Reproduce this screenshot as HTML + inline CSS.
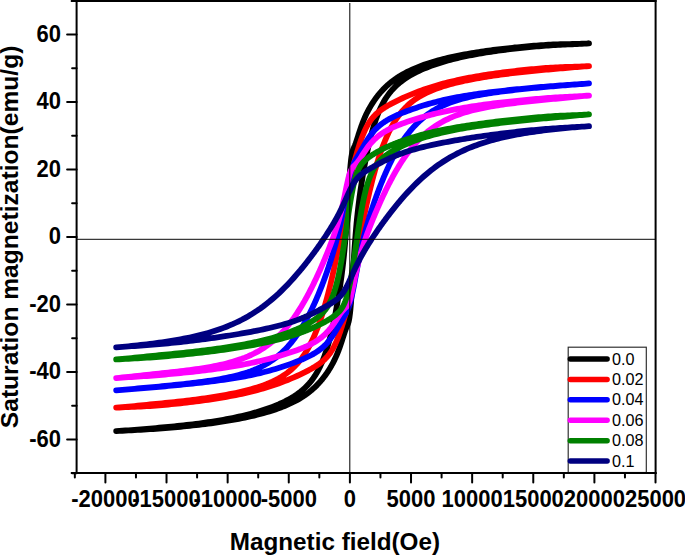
<!DOCTYPE html>
<html><head><meta charset="utf-8"><style>
html,body{margin:0;padding:0;background:#fff;width:685px;height:556px;overflow:hidden}
svg{display:block;font-family:"Liberation Sans",sans-serif}
</style></head><body>
<svg width="685" height="556" viewBox="0 0 685 556">
<rect width="685" height="556" fill="#fff"/>
<path d="M589.00,43.41 586.61,43.53 584.22,43.64 581.82,43.73 579.43,43.81 577.04,43.88 574.65,43.94 572.25,43.99 569.86,44.04 567.47,44.10 565.08,44.15 562.68,44.21 560.29,44.27 557.90,44.34 555.51,44.42 553.11,44.51 550.72,44.62 548.33,44.73 545.94,44.87 543.54,45.02 541.15,45.18 538.76,45.37 536.37,45.56 533.97,45.76 531.58,45.96 529.19,46.16 526.80,46.37 524.41,46.59 522.01,46.81 519.62,47.04 517.23,47.28 514.84,47.51 512.44,47.76 510.05,48.01 507.66,48.27 505.27,48.54 502.87,48.81 500.48,49.09 498.09,49.38 495.70,49.67 493.30,49.98 490.91,50.29 488.52,50.61 486.13,50.94 483.73,51.29 481.34,51.64 478.95,52.00 476.56,52.37 474.16,52.76 471.77,53.15 469.38,53.56 466.99,53.99 464.59,54.42 462.20,54.87 459.81,55.34 457.42,55.82 455.03,56.32 452.63,56.84 450.24,57.38 447.85,57.93 445.46,58.51 443.06,59.10 440.67,59.73 438.28,60.37 435.89,61.04 433.49,61.74 431.10,62.47 428.71,63.23 426.32,64.02 423.92,64.85 421.53,65.72 419.14,66.63 416.75,67.58 414.35,68.59 411.96,69.65 409.57,70.76 407.18,71.94 404.78,73.20 402.39,74.53 400.00,75.95 399.50,76.26 399.00,76.57 398.50,76.89 398.00,77.21 397.50,77.54 397.00,77.87 396.50,78.21 396.00,78.55 395.50,78.89 395.00,79.25 394.50,79.60 394.00,79.97 393.50,80.33 393.00,80.71 392.50,81.09 392.00,81.47 391.50,81.87 391.00,82.27 390.50,82.67 390.00,83.08 389.50,83.50 389.00,83.93 388.50,84.36 388.00,84.80 387.50,85.25 387.00,85.70 386.50,86.16 386.00,86.63 385.50,87.11 385.00,87.60 384.50,88.09 384.00,88.60 383.50,89.11 383.00,89.63 382.50,90.16 382.00,90.70 381.50,91.26 381.00,91.82 380.50,92.39 380.00,92.97 379.50,93.56 379.00,94.16 378.50,94.77 378.00,95.40 377.50,96.03 377.00,96.68 376.50,97.34 376.00,98.02 375.50,98.70 375.00,99.40 374.50,100.11 374.00,100.84 373.50,101.58 373.00,102.34 372.50,103.11 372.00,103.90 371.50,104.70 371.00,105.52 370.50,106.36 370.00,107.22 369.50,108.09 369.00,108.99 368.50,109.91 368.00,110.85 367.50,111.82 367.00,112.81 366.50,113.82 366.00,114.87 365.50,115.94 365.00,117.05 364.50,118.18 364.00,119.35 363.50,120.56 363.00,121.81 362.50,123.09 362.00,124.41 361.50,125.78 361.00,127.18 360.50,128.63 360.00,130.11 359.50,131.63 359.00,133.18 358.50,134.75 358.00,136.32 357.50,137.90 357.00,139.45 356.50,140.96 356.00,142.41 355.50,143.78 355.00,145.06 354.50,146.26 354.00,147.41 353.50,148.57 353.00,149.88 352.50,151.49 352.00,153.61 351.50,156.47 351.00,160.25 350.50,165.07 350.00,170.95 349.50,177.78 349.00,185.34 348.50,193.35 348.00,201.54 347.50,209.65 347.00,217.48 346.50,224.91 346.00,231.86 345.50,238.32 345.00,244.30 344.50,249.83 344.00,254.97 343.50,259.75 343.00,264.24 342.50,268.46 342.00,272.46 341.50,276.28 341.00,279.92 340.50,283.43 340.00,286.81 339.50,290.08 339.00,293.26 338.50,296.34 338.00,299.34 337.50,302.25 337.00,305.10 336.50,307.87 336.00,310.57 335.50,313.20 335.00,315.76 334.50,318.26 334.00,320.70 333.50,323.07 333.00,325.38 332.50,327.63 332.00,329.81 331.50,331.94 331.00,334.00 330.50,336.01 330.00,337.96 329.50,339.86 329.00,341.69 328.50,343.48 328.00,345.21 327.50,346.89 327.00,348.51 326.50,350.09 326.00,351.62 325.50,353.10 325.00,354.54 324.50,355.94 324.00,357.29 323.50,358.60 323.00,359.87 322.50,361.10 322.00,362.29 321.50,363.44 321.00,364.56 320.50,365.65 320.00,366.70 319.50,367.73 319.00,368.72 318.50,369.68 318.00,370.62 317.50,371.52 317.00,372.40 316.50,373.26 316.00,374.09 315.50,374.90 315.00,375.68 314.50,376.44 314.00,377.19 313.50,377.91 313.00,378.61 312.50,379.30 312.00,379.96 311.50,380.61 311.00,381.25 310.50,381.86 310.00,382.47 309.50,383.05 309.00,383.63 308.50,384.19 308.00,384.73 307.50,385.27 307.00,385.79 306.50,386.30 306.00,386.80 305.50,387.29 305.00,387.77 304.50,388.24 304.00,388.69 303.50,389.14 303.00,389.58 302.50,390.01 302.00,390.44 301.50,390.85 301.00,391.26 300.50,391.66 300.00,392.05 296.94,394.31 293.87,396.35 290.81,398.22 287.75,399.93 284.68,401.52 281.62,402.99 278.56,404.37 275.49,405.66 272.43,406.87 269.37,408.02 266.30,409.10 263.24,410.12 260.18,411.09 257.11,412.02 254.05,412.89 250.99,413.73 247.92,414.52 244.86,415.28 241.80,416.01 238.73,416.70 235.67,417.36 232.61,418.00 229.54,418.60 226.48,419.18 223.42,419.74 220.35,420.28 217.29,420.79 214.23,421.29 211.16,421.76 208.10,422.22 205.04,422.66 201.97,423.09 198.91,423.50 195.85,423.89 192.78,424.27 189.72,424.64 186.66,425.00 183.59,425.34 180.53,425.68 177.47,426.00 174.40,426.31 171.34,426.61 168.28,426.91 165.21,427.19 162.15,427.47 159.09,427.75 156.02,428.02 152.96,428.28 149.90,428.54 146.83,428.80 143.77,429.06 140.71,429.31 137.64,429.56 134.58,429.80 131.52,430.04 128.45,430.27 125.39,430.48 122.33,430.69 119.26,430.88 116.20,431.06 116.20,431.06 119.26,430.89 122.33,430.73 125.39,430.56 128.45,430.41 131.52,430.25 134.58,430.09 137.64,429.93 140.71,429.76 143.77,429.59 146.83,429.40 149.90,429.21 152.96,429.00 156.02,428.79 159.09,428.57 162.15,428.33 165.21,428.09 168.28,427.84 171.34,427.58 174.40,427.31 177.47,427.03 180.53,426.74 183.59,426.44 186.66,426.13 189.72,425.82 192.78,425.49 195.85,425.15 198.91,424.80 201.97,424.44 205.04,424.06 208.10,423.67 211.16,423.26 214.23,422.85 217.29,422.41 220.35,421.96 223.42,421.49 226.48,421.00 229.54,420.49 232.61,419.96 235.67,419.41 238.73,418.84 241.80,418.24 244.86,417.61 247.92,416.96 250.99,416.27 254.05,415.56 257.11,414.80 260.18,414.02 263.24,413.19 266.30,412.31 269.37,411.40 272.43,410.43 275.49,409.40 278.56,408.32 281.62,407.17 284.68,405.94 287.75,404.63 290.81,403.23 293.87,401.73 296.94,400.11 300.00,398.36 300.50,398.06 301.00,397.75 301.50,397.44 302.00,397.13 302.50,396.81 303.00,396.49 303.50,396.16 304.00,395.83 304.50,395.49 305.00,395.15 305.50,394.81 306.00,394.45 306.50,394.10 307.00,393.73 307.50,393.37 308.00,392.99 308.50,392.61 309.00,392.23 309.50,391.83 310.00,391.43 310.50,391.03 311.00,390.62 311.50,390.20 312.00,389.77 312.50,389.34 313.00,388.90 313.50,388.45 314.00,388.00 314.50,387.54 315.00,387.07 315.50,386.59 316.00,386.10 316.50,385.61 317.00,385.10 317.50,384.59 318.00,384.07 318.50,383.54 319.00,383.00 319.50,382.44 320.00,381.88 320.50,381.31 321.00,380.73 321.50,380.14 322.00,379.54 322.50,378.93 323.00,378.30 323.50,377.67 324.00,377.02 324.50,376.36 325.00,375.68 325.50,375.00 326.00,374.30 326.50,373.59 327.00,372.86 327.50,372.12 328.00,371.36 328.50,370.59 329.00,369.80 329.50,369.00 330.00,368.18 330.50,367.34 331.00,366.48 331.50,365.61 332.00,364.71 332.50,363.79 333.00,362.85 333.50,361.88 334.00,360.89 334.50,359.88 335.00,358.83 335.50,357.76 336.00,356.65 336.50,355.52 337.00,354.35 337.50,353.14 338.00,351.89 338.50,350.61 339.00,349.29 339.50,347.92 340.00,346.52 340.50,345.07 341.00,343.59 341.50,342.07 342.00,340.52 342.50,338.95 343.00,337.38 343.50,335.80 344.00,334.25 344.50,332.74 345.00,331.29 345.50,329.92 346.00,328.64 346.50,327.44 347.00,326.29 347.50,325.13 348.00,323.82 348.50,322.21 349.00,320.09 349.50,317.23 350.00,313.45 350.50,308.63 351.00,302.75 351.50,295.92 352.00,288.36 352.50,280.35 353.00,272.16 353.50,264.05 354.00,256.22 354.50,248.79 355.00,241.84 355.50,235.38 356.00,229.40 356.50,223.87 357.00,218.73 357.50,213.95 358.00,209.46 358.50,205.24 359.00,201.24 359.50,197.42 360.00,193.78 360.50,190.27 361.00,186.89 361.50,183.62 362.00,180.44 362.50,177.36 363.00,174.36 363.50,171.45 364.00,168.60 364.50,165.83 365.00,163.13 365.50,160.50 366.00,157.94 366.50,155.44 367.00,153.00 367.50,150.63 368.00,148.32 368.50,146.07 369.00,143.89 369.50,141.76 370.00,139.70 370.50,137.69 371.00,135.74 371.50,133.84 372.00,132.01 372.50,130.22 373.00,128.49 373.50,126.81 374.00,125.19 374.50,123.61 375.00,122.08 375.50,120.60 376.00,119.16 376.50,117.76 377.00,116.41 377.50,115.10 378.00,113.83 378.50,112.60 379.00,111.41 379.50,110.26 380.00,109.14 380.50,108.05 381.00,107.00 381.50,105.97 382.00,104.98 382.50,104.02 383.00,103.08 383.50,102.18 384.00,101.30 384.50,100.44 385.00,99.61 385.50,98.80 386.00,98.02 386.50,97.26 387.00,96.51 387.50,95.79 388.00,95.09 388.50,94.40 389.00,93.74 389.50,93.09 390.00,92.45 390.50,91.84 391.00,91.23 391.50,90.65 392.00,90.07 392.50,89.51 393.00,88.97 393.50,88.43 394.00,87.91 394.50,87.40 395.00,86.90 395.50,86.41 396.00,85.93 396.50,85.46 397.00,85.01 397.50,84.56 398.00,84.12 398.50,83.69 399.00,83.26 399.50,82.85 400.00,82.44 402.39,80.59 404.78,78.89 407.18,77.31 409.57,75.85 411.96,74.47 414.35,73.19 416.75,71.97 419.14,70.82 421.53,69.73 423.92,68.70 426.32,67.71 428.71,66.77 431.10,65.88 433.49,65.02 435.89,64.20 438.28,63.41 440.67,62.65 443.06,61.93 445.46,61.23 447.85,60.56 450.24,59.91 452.63,59.29 455.03,58.69 457.42,58.11 459.81,57.55 462.20,57.02 464.59,56.49 466.99,55.99 469.38,55.51 471.77,55.04 474.16,54.58 476.56,54.14 478.95,53.72 481.34,53.30 483.73,52.90 486.13,52.51 488.52,52.14 490.91,51.77 493.30,51.42 495.70,51.07 498.09,50.74 500.48,50.42 502.87,50.10 505.27,49.79 507.66,49.49 510.05,49.20 512.44,48.92 514.84,48.65 517.23,48.38 519.62,48.12 522.01,47.86 524.41,47.61 526.80,47.37 529.19,47.13 531.58,46.90 533.97,46.68 536.37,46.46 538.76,46.24 541.15,46.03 543.54,45.83 545.94,45.65 548.33,45.49 550.72,45.33 553.11,45.19 555.51,45.06 557.90,44.93 560.29,44.80 562.68,44.68 565.08,44.57 567.47,44.45 569.86,44.34 572.25,44.23 574.65,44.12 577.04,44.01 579.43,43.89 581.82,43.78 584.22,43.66 586.61,43.54 589.00,43.41Z" fill="none" stroke="#000000" stroke-width="5.8" stroke-linecap="round" stroke-linejoin="round"/>
<path d="M589.00,66.14 586.61,66.27 584.22,66.39 581.82,66.49 579.43,66.58 577.04,66.66 574.65,66.73 572.25,66.80 569.86,66.86 567.47,66.93 565.08,67.01 562.68,67.09 560.29,67.19 557.90,67.29 555.51,67.41 553.11,67.54 550.72,67.68 548.33,67.84 545.94,68.01 543.54,68.19 541.15,68.39 538.76,68.59 536.37,68.81 533.97,69.03 531.58,69.25 529.19,69.49 526.80,69.73 524.41,69.97 522.01,70.22 519.62,70.48 517.23,70.74 514.84,71.01 512.44,71.29 510.05,71.57 507.66,71.86 505.27,72.16 502.87,72.47 500.48,72.78 498.09,73.10 495.70,73.43 493.30,73.77 490.91,74.12 488.52,74.48 486.13,74.84 483.73,75.22 481.34,75.61 478.95,76.01 476.56,76.42 474.16,76.84 471.77,77.27 469.38,77.72 466.99,78.18 464.59,78.66 462.20,79.15 459.81,79.65 457.42,80.17 455.03,80.71 452.63,81.27 450.24,81.84 447.85,82.43 445.46,83.04 443.06,83.67 440.67,84.32 438.28,84.99 435.89,85.69 433.49,86.41 431.10,87.16 428.71,87.92 426.32,88.72 423.92,89.54 421.53,90.39 419.14,91.27 416.75,92.18 414.35,93.11 411.96,94.08 409.57,95.07 407.18,96.10 404.78,97.15 402.39,98.24 400.00,99.36 399.50,99.60 399.00,99.84 398.50,100.08 398.00,100.32 397.50,100.56 397.00,100.81 396.50,101.06 396.00,101.30 395.50,101.56 395.00,101.81 394.50,102.06 394.00,102.32 393.50,102.58 393.00,102.84 392.50,103.10 392.00,103.36 391.50,103.63 391.00,103.90 390.50,104.17 390.00,104.45 389.50,104.72 389.00,105.00 388.50,105.29 388.00,105.57 387.50,105.86 387.00,106.15 386.50,106.45 386.00,106.75 385.50,107.06 385.00,107.37 384.50,107.68 384.00,108.00 383.50,108.33 383.00,108.66 382.50,109.00 382.00,109.34 381.50,109.69 381.00,110.05 380.50,110.42 380.00,110.79 379.50,111.17 379.00,111.57 378.50,111.97 378.00,112.39 377.50,112.81 377.00,113.25 376.50,113.71 376.00,114.17 375.50,114.65 375.00,115.15 374.50,115.66 374.00,116.19 373.50,116.74 373.00,117.31 372.50,117.90 372.00,118.52 371.50,119.15 371.00,119.81 370.50,120.50 370.00,121.21 369.50,121.95 369.00,122.72 368.50,123.52 368.00,124.36 367.50,125.23 367.00,126.13 366.50,127.07 366.00,128.05 365.50,129.06 365.00,130.12 364.50,131.21 364.00,132.35 363.50,133.53 363.00,134.76 362.50,136.02 362.00,137.33 361.50,138.69 361.00,140.08 360.50,141.52 360.00,143.00 359.50,144.52 359.00,146.07 358.50,147.66 358.00,149.28 357.50,150.92 357.00,152.60 356.50,154.29 356.00,156.01 355.50,157.75 355.00,159.52 354.50,161.30 354.00,163.12 353.50,164.99 353.00,166.91 352.50,168.89 352.00,170.97 351.50,173.15 351.00,175.44 350.50,177.86 350.00,180.42 349.50,183.10 349.00,185.90 348.50,188.80 348.00,191.79 347.50,194.83 347.00,197.92 346.50,201.02 346.00,204.13 345.50,207.22 345.00,210.29 344.50,213.33 344.00,216.33 343.50,219.29 343.00,222.21 342.50,225.10 342.00,227.94 341.50,230.75 341.00,233.51 340.50,236.24 340.00,238.94 339.50,241.60 339.00,244.23 338.50,246.82 338.00,249.39 337.50,251.92 337.00,254.42 336.50,256.89 336.00,259.32 335.50,261.73 335.00,264.11 334.50,266.45 334.00,268.77 333.50,271.05 333.00,273.30 332.50,275.52 332.00,277.71 331.50,279.87 331.00,282.00 330.50,284.10 330.00,286.16 329.50,288.20 329.00,290.20 328.50,292.17 328.00,294.12 327.50,296.03 327.00,297.90 326.50,299.75 326.00,301.57 325.50,303.36 325.00,305.11 324.50,306.84 324.00,308.53 323.50,310.20 323.00,311.83 322.50,313.44 322.00,315.01 321.50,316.56 321.00,318.08 320.50,319.57 320.00,321.03 319.50,322.46 319.00,323.87 318.50,325.25 318.00,326.60 317.50,327.92 317.00,329.22 316.50,330.49 316.00,331.74 315.50,332.96 315.00,334.16 314.50,335.33 314.00,336.48 313.50,337.60 313.00,338.71 312.50,339.78 312.00,340.84 311.50,341.87 311.00,342.89 310.50,343.88 310.00,344.85 309.50,345.80 309.00,346.73 308.50,347.64 308.00,348.53 307.50,349.40 307.00,350.25 306.50,351.09 306.00,351.90 305.50,352.70 305.00,353.49 304.50,354.25 304.00,355.00 303.50,355.74 303.00,356.46 302.50,357.16 302.00,357.85 301.50,358.52 301.00,359.18 300.50,359.83 300.00,360.46 296.94,364.06 293.87,367.23 290.81,370.03 287.75,372.52 284.68,374.74 281.62,376.73 278.56,378.53 275.49,380.15 272.43,381.63 269.37,382.98 266.30,384.23 263.24,385.37 260.18,386.44 257.11,387.44 254.05,388.37 250.99,389.24 247.92,390.07 244.86,390.85 241.80,391.59 238.73,392.29 235.67,392.96 232.61,393.60 229.54,394.21 226.48,394.79 223.42,395.35 220.35,395.89 217.29,396.41 214.23,396.91 211.16,397.39 208.10,397.85 205.04,398.30 201.97,398.73 198.91,399.15 195.85,399.55 192.78,399.94 189.72,400.32 186.66,400.69 183.59,401.04 180.53,401.39 177.47,401.73 174.40,402.05 171.34,402.37 168.28,402.68 165.21,402.99 162.15,403.29 159.09,403.59 156.02,403.89 152.96,404.19 149.90,404.49 146.83,404.80 143.77,405.11 140.71,405.43 137.64,405.75 134.58,406.07 131.52,406.38 128.45,406.68 125.39,406.97 122.33,407.23 119.26,407.47 116.20,407.67 116.20,407.67 119.26,407.49 122.33,407.33 125.39,407.18 128.45,407.05 131.52,406.92 134.58,406.80 137.64,406.67 140.71,406.52 143.77,406.36 146.83,406.19 149.90,405.99 152.96,405.78 156.02,405.56 159.09,405.31 162.15,405.05 165.21,404.78 168.28,404.50 171.34,404.21 174.40,403.90 177.47,403.58 180.53,403.26 183.59,402.92 186.66,402.57 189.72,402.21 192.78,401.84 195.85,401.46 198.91,401.07 201.97,400.66 205.04,400.24 208.10,399.80 211.16,399.35 214.23,398.88 217.29,398.40 220.35,397.89 223.42,397.37 226.48,396.83 229.54,396.27 232.61,395.69 235.67,395.09 238.73,394.46 241.80,393.81 244.86,393.13 247.92,392.42 250.99,391.68 254.05,390.92 257.11,390.12 260.18,389.28 263.24,388.41 266.30,387.50 269.37,386.55 272.43,385.57 275.49,384.53 278.56,383.46 281.62,382.33 284.68,381.16 287.75,379.95 290.81,378.68 293.87,377.36 296.94,376.00 300.00,374.58 300.50,374.34 301.00,374.10 301.50,373.86 302.00,373.62 302.50,373.38 303.00,373.14 303.50,372.89 304.00,372.64 304.50,372.40 305.00,372.14 305.50,371.89 306.00,371.64 306.50,371.38 307.00,371.12 307.50,370.86 308.00,370.60 308.50,370.34 309.00,370.07 309.50,369.80 310.00,369.53 310.50,369.25 311.00,368.98 311.50,368.70 312.00,368.41 312.50,368.13 313.00,367.84 313.50,367.55 314.00,367.25 314.50,366.95 315.00,366.64 315.50,366.33 316.00,366.02 316.50,365.70 317.00,365.37 317.50,365.04 318.00,364.70 318.50,364.36 319.00,364.01 319.50,363.65 320.00,363.28 320.50,362.91 321.00,362.53 321.50,362.13 322.00,361.73 322.50,361.31 323.00,360.89 323.50,360.45 324.00,359.99 324.50,359.53 325.00,359.05 325.50,358.55 326.00,358.04 326.50,357.51 327.00,356.96 327.50,356.39 328.00,355.80 328.50,355.18 329.00,354.55 329.50,353.89 330.00,353.20 330.50,352.49 331.00,351.75 331.50,350.98 332.00,350.18 332.50,349.34 333.00,348.47 333.50,347.57 334.00,346.63 334.50,345.65 335.00,344.64 335.50,343.58 336.00,342.49 336.50,341.35 337.00,340.17 337.50,338.94 338.00,337.68 338.50,336.37 339.00,335.01 339.50,333.62 340.00,332.18 340.50,330.70 341.00,329.18 341.50,327.63 342.00,326.04 342.50,324.42 343.00,322.78 343.50,321.10 344.00,319.41 344.50,317.69 345.00,315.95 345.50,314.18 346.00,312.40 346.50,310.58 347.00,308.71 347.50,306.79 348.00,304.81 348.50,302.73 349.00,300.55 349.50,298.26 350.00,295.84 350.50,293.28 351.00,290.60 351.50,287.80 352.00,284.90 352.50,281.91 353.00,278.87 353.50,275.78 354.00,272.68 354.50,269.57 355.00,266.48 355.50,263.41 356.00,260.37 356.50,257.37 357.00,254.41 357.50,251.49 358.00,248.60 358.50,245.76 359.00,242.95 359.50,240.19 360.00,237.46 360.50,234.76 361.00,232.10 361.50,229.47 362.00,226.88 362.50,224.31 363.00,221.78 363.50,219.28 364.00,216.81 364.50,214.38 365.00,211.97 365.50,209.59 366.00,207.25 366.50,204.93 367.00,202.65 367.50,200.40 368.00,198.18 368.50,195.99 369.00,193.83 369.50,191.70 370.00,189.60 370.50,187.54 371.00,185.50 371.50,183.50 372.00,181.53 372.50,179.58 373.00,177.67 373.50,175.80 374.00,173.95 374.50,172.13 375.00,170.34 375.50,168.59 376.00,166.86 376.50,165.17 377.00,163.50 377.50,161.87 378.00,160.26 378.50,158.69 379.00,157.14 379.50,155.62 380.00,154.13 380.50,152.67 381.00,151.24 381.50,149.83 382.00,148.45 382.50,147.10 383.00,145.78 383.50,144.48 384.00,143.21 384.50,141.96 385.00,140.74 385.50,139.54 386.00,138.37 386.50,137.22 387.00,136.10 387.50,134.99 388.00,133.92 388.50,132.86 389.00,131.83 389.50,130.81 390.00,129.82 390.50,128.85 391.00,127.90 391.50,126.97 392.00,126.06 392.50,125.17 393.00,124.30 393.50,123.45 394.00,122.61 394.50,121.80 395.00,121.00 395.50,120.21 396.00,119.45 396.50,118.70 397.00,117.96 397.50,117.24 398.00,116.54 398.50,115.85 399.00,115.18 399.50,114.52 400.00,113.87 402.39,110.96 404.78,108.33 407.18,105.94 409.57,103.77 411.96,101.79 414.35,99.98 416.75,98.33 419.14,96.81 421.53,95.40 423.92,94.11 426.32,92.90 428.71,91.78 431.10,90.73 433.49,89.75 435.89,88.83 438.28,87.96 440.67,87.14 443.06,86.36 445.46,85.63 447.85,84.93 450.24,84.26 452.63,83.62 455.03,83.01 457.42,82.42 459.81,81.86 462.20,81.31 464.59,80.79 466.99,80.29 469.38,79.80 471.77,79.34 474.16,78.88 476.56,78.44 478.95,78.02 481.34,77.61 483.73,77.21 486.13,76.82 488.52,76.44 490.91,76.07 493.30,75.72 495.70,75.37 498.09,75.03 500.48,74.70 502.87,74.38 505.27,74.07 507.66,73.77 510.05,73.47 512.44,73.18 514.84,72.90 517.23,72.62 519.62,72.35 522.01,72.09 524.41,71.83 526.80,71.58 529.19,71.33 531.58,71.09 533.97,70.85 536.37,70.61 538.76,70.38 541.15,70.16 543.54,69.94 545.94,69.72 548.33,69.51 550.72,69.31 553.11,69.10 555.51,68.90 557.90,68.69 560.29,68.48 562.68,68.28 565.08,68.06 567.47,67.85 569.86,67.64 572.25,67.43 574.65,67.22 577.04,67.01 579.43,66.82 581.82,66.63 584.22,66.45 586.61,66.29 589.00,66.14Z" fill="none" stroke="#ff0000" stroke-width="5.8" stroke-linecap="round" stroke-linejoin="round"/>
<path d="M589.00,83.41 586.61,83.60 584.22,83.79 581.82,83.97 579.43,84.15 577.04,84.32 574.65,84.49 572.25,84.66 569.86,84.83 567.47,85.00 565.08,85.16 562.68,85.33 560.29,85.50 557.90,85.67 555.51,85.85 553.11,86.03 550.72,86.21 548.33,86.40 545.94,86.60 543.54,86.80 541.15,87.00 538.76,87.22 536.37,87.44 533.97,87.66 531.58,87.88 529.19,88.10 526.80,88.33 524.41,88.56 522.01,88.79 519.62,89.03 517.23,89.26 514.84,89.50 512.44,89.75 510.05,90.00 507.66,90.25 505.27,90.51 502.87,90.77 500.48,91.03 498.09,91.31 495.70,91.58 493.30,91.87 490.91,92.16 488.52,92.45 486.13,92.76 483.73,93.07 481.34,93.39 478.95,93.72 476.56,94.06 474.16,94.41 471.77,94.77 469.38,95.14 466.99,95.53 464.59,95.92 462.20,96.33 459.81,96.76 457.42,97.20 455.03,97.65 452.63,98.13 450.24,98.61 447.85,99.12 445.46,99.65 443.06,100.19 440.67,100.76 438.28,101.35 435.89,101.96 433.49,102.59 431.10,103.24 428.71,103.91 426.32,104.61 423.92,105.33 421.53,106.08 419.14,106.85 416.75,107.64 414.35,108.46 411.96,109.30 409.57,110.16 407.18,111.06 404.78,111.98 402.39,112.93 400.00,113.92 399.50,114.14 399.00,114.35 398.50,114.57 398.00,114.78 397.50,115.00 397.00,115.23 396.50,115.45 396.00,115.68 395.50,115.91 395.00,116.14 394.50,116.37 394.00,116.61 393.50,116.85 393.00,117.09 392.50,117.34 392.00,117.59 391.50,117.85 391.00,118.10 390.50,118.36 390.00,118.63 389.50,118.90 389.00,119.17 388.50,119.45 388.00,119.74 387.50,120.03 387.00,120.32 386.50,120.62 386.00,120.93 385.50,121.24 385.00,121.56 384.50,121.88 384.00,122.21 383.50,122.55 383.00,122.90 382.50,123.26 382.00,123.62 381.50,123.99 381.00,124.38 380.50,124.77 380.00,125.17 379.50,125.58 379.00,126.01 378.50,126.44 378.00,126.89 377.50,127.35 377.00,127.82 376.50,128.30 376.00,128.80 375.50,129.31 375.00,129.84 374.50,130.38 374.00,130.94 373.50,131.51 373.00,132.10 372.50,132.71 372.00,133.33 371.50,133.97 371.00,134.63 370.50,135.30 370.00,135.99 369.50,136.70 369.00,137.42 368.50,138.16 368.00,138.92 367.50,139.70 367.00,140.49 366.50,141.29 366.00,142.11 365.50,142.94 365.00,143.78 364.50,144.64 364.00,145.50 363.50,146.36 363.00,147.24 362.50,148.11 362.00,148.98 361.50,149.86 361.00,150.73 360.50,151.59 360.00,152.45 359.50,153.30 359.00,154.15 358.50,154.99 358.00,155.82 357.50,156.66 357.00,157.50 356.50,158.35 356.00,159.21 355.50,160.11 355.00,161.05 354.50,162.04 354.00,163.10 353.50,164.23 353.00,165.47 352.50,166.81 352.00,168.28 351.50,169.87 351.00,171.60 350.50,173.47 350.00,175.48 349.50,177.62 349.00,179.89 348.50,182.26 348.00,184.74 347.50,187.30 347.00,189.92 346.50,192.59 346.00,195.30 345.50,198.01 345.00,200.72 344.50,203.42 344.00,206.10 343.50,208.74 343.00,211.33 342.50,213.89 342.00,216.38 341.50,218.83 341.00,221.22 340.50,223.56 340.00,225.84 339.50,228.06 339.00,230.24 338.50,232.36 338.00,234.44 337.50,236.47 337.00,238.45 336.50,240.40 336.00,242.30 335.50,244.17 335.00,246.00 334.50,247.79 334.00,249.56 333.50,251.29 333.00,253.00 332.50,254.68 332.00,256.33 331.50,257.96 331.00,259.57 330.50,261.15 330.00,262.72 329.50,264.26 329.00,265.78 328.50,267.29 328.00,268.77 327.50,270.24 327.00,271.69 326.50,273.13 326.00,274.54 325.50,275.95 325.00,277.33 324.50,278.71 324.00,280.07 323.50,281.41 323.00,282.74 322.50,284.05 322.00,285.36 321.50,286.65 321.00,287.92 320.50,289.18 320.00,290.43 319.50,291.67 319.00,292.89 318.50,294.10 318.00,295.30 317.50,296.49 317.00,297.66 316.50,298.82 316.00,299.97 315.50,301.10 315.00,302.23 314.50,303.34 314.00,304.44 313.50,305.53 313.00,306.60 312.50,307.67 312.00,308.72 311.50,309.76 311.00,310.79 310.50,311.80 310.00,312.81 309.50,313.80 309.00,314.78 308.50,315.75 308.00,316.71 307.50,317.66 307.00,318.59 306.50,319.52 306.00,320.43 305.50,321.33 305.00,322.22 304.50,323.10 304.00,323.97 303.50,324.83 303.00,325.67 302.50,326.51 302.00,327.33 301.50,328.15 301.00,328.95 300.50,329.74 300.00,330.53 296.94,335.10 293.87,339.29 290.81,343.14 287.75,346.67 284.68,349.89 281.62,352.82 278.56,355.50 275.49,357.94 272.43,360.17 269.37,362.19 266.30,364.04 263.24,365.73 260.18,367.27 257.11,368.67 254.05,369.96 250.99,371.14 247.92,372.23 244.86,373.22 241.80,374.14 238.73,375.00 235.67,375.79 232.61,376.52 229.54,377.20 226.48,377.84 223.42,378.44 220.35,379.01 217.29,379.54 214.23,380.04 211.16,380.52 208.10,380.98 205.04,381.41 201.97,381.83 198.91,382.23 195.85,382.62 192.78,382.99 189.72,383.35 186.66,383.70 183.59,384.04 180.53,384.37 177.47,384.70 174.40,385.01 171.34,385.32 168.28,385.63 165.21,385.93 162.15,386.23 159.09,386.52 156.02,386.81 152.96,387.10 149.90,387.38 146.83,387.66 143.77,387.95 140.71,388.23 137.64,388.50 134.58,388.78 131.52,389.05 128.45,389.32 125.39,389.59 122.33,389.85 119.26,390.11 116.20,390.37 116.20,390.37 119.26,390.12 122.33,389.86 125.39,389.61 128.45,389.36 131.52,389.11 134.58,388.87 137.64,388.61 140.71,388.36 143.77,388.11 146.83,387.85 149.90,387.59 152.96,387.33 156.02,387.06 159.09,386.79 162.15,386.51 165.21,386.24 168.28,385.95 171.34,385.67 174.40,385.38 177.47,385.09 180.53,384.79 183.59,384.48 186.66,384.18 189.72,383.86 192.78,383.54 195.85,383.21 198.91,382.88 201.97,382.53 205.04,382.18 208.10,381.82 211.16,381.45 214.23,381.06 217.29,380.67 220.35,380.25 223.42,379.83 226.48,379.39 229.54,378.93 232.61,378.45 235.67,377.95 238.73,377.43 241.80,376.89 244.86,376.32 247.92,375.72 250.99,375.10 254.05,374.45 257.11,373.76 260.18,373.05 263.24,372.30 266.30,371.51 269.37,370.69 272.43,369.83 275.49,368.94 278.56,368.00 281.62,367.03 284.68,366.02 287.75,364.97 290.81,363.87 293.87,362.74 296.94,361.55 300.00,360.32 300.50,360.11 301.00,359.90 301.50,359.69 302.00,359.48 302.50,359.26 303.00,359.05 303.50,358.83 304.00,358.61 304.50,358.38 305.00,358.16 305.50,357.93 306.00,357.70 306.50,357.47 307.00,357.23 307.50,356.99 308.00,356.75 308.50,356.51 309.00,356.26 309.50,356.01 310.00,355.75 310.50,355.49 311.00,355.23 311.50,354.96 312.00,354.69 312.50,354.42 313.00,354.13 313.50,353.85 314.00,353.56 314.50,353.26 315.00,352.96 315.50,352.65 316.00,352.34 316.50,352.02 317.00,351.69 317.50,351.35 318.00,351.01 318.50,350.66 319.00,350.30 319.50,349.93 320.00,349.55 320.50,349.17 321.00,348.77 321.50,348.37 322.00,347.95 322.50,347.52 323.00,347.08 323.50,346.63 324.00,346.17 324.50,345.69 325.00,345.20 325.50,344.69 326.00,344.18 326.50,343.64 327.00,343.10 327.50,342.53 328.00,341.95 328.50,341.36 329.00,340.75 329.50,340.12 330.00,339.47 330.50,338.81 331.00,338.13 331.50,337.43 332.00,336.71 332.50,335.98 333.00,335.23 333.50,334.47 334.00,333.69 334.50,332.89 335.00,332.08 335.50,331.26 336.00,330.42 336.50,329.58 337.00,328.72 337.50,327.86 338.00,326.99 338.50,326.12 339.00,325.24 339.50,324.37 340.00,323.49 340.50,322.63 341.00,321.76 341.50,320.91 342.00,320.06 342.50,319.21 343.00,318.38 343.50,317.54 344.00,316.71 344.50,315.86 345.00,315.01 345.50,314.13 346.00,313.22 346.50,312.26 347.00,311.25 347.50,310.16 348.00,308.98 348.50,307.71 349.00,306.32 349.50,304.80 350.00,303.15 350.50,301.37 351.00,299.44 351.50,297.38 352.00,295.19 352.50,292.88 353.00,290.46 353.50,287.94 354.00,285.36 354.50,282.71 355.00,280.03 355.50,277.32 356.00,274.60 356.50,271.89 357.00,269.20 357.50,266.54 358.00,263.92 358.50,261.34 359.00,258.81 359.50,256.33 360.00,253.91 360.50,251.54 361.00,249.22 361.50,246.97 362.00,244.76 362.50,242.61 363.00,240.50 363.50,238.44 364.00,236.43 364.50,234.47 365.00,232.54 365.50,230.65 366.00,228.80 366.50,226.98 367.00,225.20 367.50,223.44 368.00,221.72 368.50,220.03 369.00,218.36 369.50,216.71 370.00,215.09 370.50,213.49 371.00,211.92 371.50,210.36 372.00,208.83 372.50,207.31 373.00,205.82 373.50,204.34 374.00,202.88 374.50,201.43 375.00,200.01 375.50,198.59 376.00,197.20 376.50,195.81 377.00,194.45 377.50,193.10 378.00,191.76 378.50,190.43 379.00,189.12 379.50,187.83 380.00,186.54 380.50,185.27 381.00,184.02 381.50,182.77 382.00,181.54 382.50,180.32 383.00,179.12 383.50,177.92 384.00,176.74 384.50,175.58 385.00,174.42 385.50,173.28 386.00,172.14 386.50,171.03 387.00,169.92 387.50,168.82 388.00,167.74 388.50,166.67 389.00,165.61 389.50,164.56 390.00,163.53 390.50,162.51 391.00,161.49 391.50,160.49 392.00,159.50 392.50,158.53 393.00,157.56 393.50,156.61 394.00,155.67 394.50,154.74 395.00,153.82 395.50,152.91 396.00,152.01 396.50,151.13 397.00,150.25 397.50,149.39 398.00,148.53 398.50,147.69 399.00,146.86 399.50,146.04 400.00,145.23 402.39,141.50 404.78,138.01 407.18,134.73 409.57,131.68 411.96,128.82 414.35,126.16 416.75,123.68 419.14,121.38 421.53,119.23 423.92,117.23 426.32,115.37 428.71,113.64 431.10,112.04 433.49,110.54 435.89,109.15 438.28,107.86 440.67,106.65 443.06,105.53 445.46,104.48 447.85,103.50 450.24,102.59 452.63,101.73 455.03,100.93 457.42,100.17 459.81,99.47 462.20,98.80 464.59,98.17 466.99,97.58 469.38,97.02 471.77,96.49 474.16,95.99 476.56,95.51 478.95,95.06 481.34,94.62 483.73,94.21 486.13,93.81 488.52,93.43 490.91,93.06 493.30,92.71 495.70,92.37 498.09,92.04 500.48,91.72 502.87,91.41 505.27,91.11 507.66,90.81 510.05,90.53 512.44,90.25 514.84,89.98 517.23,89.71 519.62,89.45 522.01,89.20 524.41,88.95 526.80,88.70 529.19,88.46 531.58,88.22 533.97,87.98 536.37,87.75 538.76,87.51 541.15,87.29 543.54,87.06 545.94,86.85 548.33,86.64 550.72,86.44 553.11,86.24 555.51,86.04 557.90,85.85 560.29,85.66 562.68,85.48 565.08,85.29 567.47,85.10 569.86,84.92 572.25,84.73 574.65,84.55 577.04,84.36 579.43,84.18 581.82,83.99 584.22,83.80 586.61,83.60 589.00,83.41Z" fill="none" stroke="#0000ff" stroke-width="5.8" stroke-linecap="round" stroke-linejoin="round"/>
<path d="M589.00,95.57 586.61,95.76 584.22,95.93 581.82,96.09 579.43,96.23 577.04,96.36 574.65,96.49 572.25,96.61 569.86,96.72 567.47,96.84 565.08,96.96 562.68,97.08 560.29,97.21 557.90,97.35 555.51,97.50 553.11,97.65 550.72,97.82 548.33,97.99 545.94,98.17 543.54,98.36 541.15,98.56 538.76,98.77 536.37,98.99 533.97,99.21 531.58,99.43 529.19,99.65 526.80,99.88 524.41,100.11 522.01,100.35 519.62,100.59 517.23,100.83 514.84,101.08 512.44,101.33 510.05,101.58 507.66,101.84 505.27,102.10 502.87,102.37 500.48,102.64 498.09,102.92 495.70,103.21 493.30,103.50 490.91,103.80 488.52,104.11 486.13,104.42 483.73,104.74 481.34,105.07 478.95,105.41 476.56,105.76 474.16,106.12 471.77,106.49 469.38,106.87 466.99,107.26 464.59,107.66 462.20,108.07 459.81,108.50 457.42,108.94 455.03,109.39 452.63,109.86 450.24,110.34 447.85,110.84 445.46,111.35 443.06,111.88 440.67,112.42 438.28,112.98 435.89,113.55 433.49,114.15 431.10,114.76 428.71,115.38 426.32,116.03 423.92,116.69 421.53,117.37 419.14,118.07 416.75,118.79 414.35,119.52 411.96,120.28 409.57,121.06 407.18,121.87 404.78,122.71 402.39,123.58 400.00,124.48 399.50,124.67 399.00,124.87 398.50,125.07 398.00,125.27 397.50,125.47 397.00,125.67 396.50,125.88 396.00,126.09 395.50,126.30 395.00,126.51 394.50,126.73 394.00,126.95 393.50,127.17 393.00,127.40 392.50,127.63 392.00,127.86 391.50,128.09 391.00,128.33 390.50,128.57 390.00,128.82 389.50,129.07 389.00,129.32 388.50,129.58 388.00,129.84 387.50,130.11 387.00,130.38 386.50,130.66 386.00,130.94 385.50,131.22 385.00,131.52 384.50,131.81 384.00,132.12 383.50,132.43 383.00,132.75 382.50,133.07 382.00,133.40 381.50,133.74 381.00,134.08 380.50,134.44 380.00,134.80 379.50,135.17 379.00,135.54 378.50,135.93 378.00,136.33 377.50,136.74 377.00,137.15 376.50,137.58 376.00,138.02 375.50,138.47 375.00,138.93 374.50,139.40 374.00,139.89 373.50,140.38 373.00,140.90 372.50,141.42 372.00,141.96 371.50,142.51 371.00,143.08 370.50,143.66 370.00,144.26 369.50,144.87 369.00,145.49 368.50,146.14 368.00,146.79 367.50,147.47 367.00,148.15 366.50,148.85 366.00,149.57 365.50,150.30 365.00,151.04 364.50,151.80 364.00,152.56 363.50,153.33 363.00,154.11 362.50,154.90 362.00,155.68 361.50,156.46 361.00,157.24 360.50,158.02 360.00,158.78 359.50,159.52 359.00,160.24 358.50,160.94 358.00,161.62 357.50,162.26 357.00,162.86 356.50,163.44 356.00,163.98 355.50,164.50 355.00,164.99 354.50,165.47 354.00,165.96 353.50,166.47 353.00,167.02 352.50,167.64 352.00,168.36 351.50,169.20 351.00,170.19 350.50,171.35 350.00,172.68 349.50,174.21 349.00,175.92 348.50,177.81 348.00,179.86 347.50,182.04 347.00,184.33 346.50,186.71 346.00,189.13 345.50,191.58 345.00,194.03 344.50,196.46 344.00,198.85 343.50,201.19 343.00,203.47 342.50,205.68 342.00,207.83 341.50,209.92 341.00,211.93 340.50,213.88 340.00,215.78 339.50,217.61 339.00,219.39 338.50,221.12 338.00,222.81 337.50,224.45 337.00,226.06 336.50,227.63 336.00,229.17 335.50,230.68 335.00,232.16 334.50,233.62 334.00,235.06 333.50,236.47 333.00,237.87 332.50,239.25 332.00,240.61 331.50,241.95 331.00,243.28 330.50,244.60 330.00,245.90 329.50,247.20 329.00,248.48 328.50,249.75 328.00,251.00 327.50,252.25 327.00,253.49 326.50,254.72 326.00,255.94 325.50,257.15 325.00,258.36 324.50,259.55 324.00,260.74 323.50,261.92 323.00,263.09 322.50,264.25 322.00,265.41 321.50,266.55 321.00,267.69 320.50,268.83 320.00,269.95 319.50,271.07 319.00,272.18 318.50,273.28 318.00,274.38 317.50,275.47 317.00,276.55 316.50,277.62 316.00,278.68 315.50,279.74 315.00,280.79 314.50,281.83 314.00,282.87 313.50,283.90 313.00,284.92 312.50,285.93 312.00,286.93 311.50,287.93 311.00,288.92 310.50,289.90 310.00,290.87 309.50,291.84 309.00,292.79 308.50,293.74 308.00,294.68 307.50,295.62 307.00,296.54 306.50,297.46 306.00,298.37 305.50,299.27 305.00,300.16 304.50,301.05 304.00,301.92 303.50,302.79 303.00,303.65 302.50,304.50 302.00,305.34 301.50,306.18 301.00,307.01 300.50,307.82 300.00,308.63 296.94,313.42 293.87,317.90 290.81,322.08 287.75,325.97 284.68,329.59 281.62,332.94 278.56,336.03 275.49,338.89 272.43,341.53 269.37,343.96 266.30,346.20 263.24,348.26 260.18,350.16 257.11,351.90 254.05,353.51 250.99,355.00 247.92,356.36 244.86,357.62 241.80,358.79 238.73,359.86 235.67,360.86 232.61,361.79 229.54,362.65 226.48,363.45 223.42,364.20 220.35,364.90 217.29,365.55 214.23,366.17 211.16,366.75 208.10,367.30 205.04,367.82 201.97,368.31 198.91,368.78 195.85,369.22 192.78,369.65 189.72,370.06 186.66,370.46 183.59,370.84 180.53,371.20 177.47,371.56 174.40,371.91 171.34,372.24 168.28,372.58 165.21,372.90 162.15,373.22 159.09,373.54 156.02,373.86 152.96,374.18 149.90,374.51 146.83,374.84 143.77,375.17 140.71,375.51 137.64,375.86 134.58,376.20 131.52,376.54 128.45,376.88 125.39,377.20 122.33,377.51 119.26,377.79 116.20,378.06 116.20,378.06 119.26,377.81 122.33,377.59 125.39,377.38 128.45,377.18 131.52,376.99 134.58,376.80 137.64,376.62 140.71,376.42 143.77,376.22 146.83,376.01 149.90,375.78 152.96,375.55 156.02,375.30 159.09,375.05 162.15,374.78 165.21,374.51 168.28,374.23 171.34,373.94 174.40,373.65 177.47,373.35 180.53,373.05 183.59,372.73 186.66,372.42 189.72,372.09 192.78,371.76 195.85,371.42 198.91,371.07 201.97,370.71 205.04,370.34 208.10,369.96 211.16,369.57 214.23,369.16 217.29,368.75 220.35,368.32 223.42,367.87 226.48,367.41 229.54,366.93 232.61,366.43 235.67,365.91 238.73,365.37 241.80,364.81 244.86,364.23 247.92,363.63 250.99,363.00 254.05,362.35 257.11,361.67 260.18,360.97 263.24,360.24 266.30,359.48 269.37,358.69 272.43,357.88 275.49,357.03 278.56,356.16 281.62,355.26 284.68,354.32 287.75,353.35 290.81,352.34 293.87,351.29 296.94,350.19 300.00,349.03 300.50,348.83 301.00,348.63 301.50,348.43 302.00,348.23 302.50,348.03 303.00,347.82 303.50,347.61 304.00,347.40 304.50,347.19 305.00,346.97 305.50,346.75 306.00,346.53 306.50,346.30 307.00,346.07 307.50,345.84 308.00,345.61 308.50,345.37 309.00,345.13 309.50,344.88 310.00,344.63 310.50,344.38 311.00,344.12 311.50,343.86 312.00,343.59 312.50,343.32 313.00,343.04 313.50,342.76 314.00,342.48 314.50,342.18 315.00,341.89 315.50,341.58 316.00,341.27 316.50,340.95 317.00,340.63 317.50,340.30 318.00,339.96 318.50,339.62 319.00,339.26 319.50,338.90 320.00,338.53 320.50,338.16 321.00,337.77 321.50,337.37 322.00,336.96 322.50,336.55 323.00,336.12 323.50,335.68 324.00,335.23 324.50,334.77 325.00,334.30 325.50,333.81 326.00,333.32 326.50,332.80 327.00,332.28 327.50,331.74 328.00,331.19 328.50,330.62 329.00,330.04 329.50,329.44 330.00,328.83 330.50,328.21 331.00,327.56 331.50,326.91 332.00,326.23 332.50,325.55 333.00,324.85 333.50,324.13 334.00,323.40 334.50,322.66 335.00,321.90 335.50,321.14 336.00,320.37 336.50,319.59 337.00,318.80 337.50,318.02 338.00,317.24 338.50,316.46 339.00,315.68 339.50,314.92 340.00,314.18 340.50,313.46 341.00,312.76 341.50,312.08 342.00,311.44 342.50,310.84 343.00,310.26 343.50,309.72 344.00,309.20 344.50,308.71 345.00,308.23 345.50,307.74 346.00,307.23 346.50,306.68 347.00,306.06 347.50,305.34 348.00,304.50 348.50,303.51 349.00,302.35 349.50,301.02 350.00,299.49 350.50,297.78 351.00,295.89 351.50,293.84 352.00,291.66 352.50,289.37 353.00,286.99 353.50,284.57 354.00,282.12 354.50,279.67 355.00,277.24 355.50,274.85 356.00,272.51 356.50,270.23 357.00,268.02 357.50,265.87 358.00,263.78 358.50,261.77 359.00,259.82 359.50,257.92 360.00,256.09 360.50,254.31 361.00,252.58 361.50,250.89 362.00,249.25 362.50,247.64 363.00,246.07 363.50,244.53 364.00,243.02 364.50,241.54 365.00,240.08 365.50,238.64 366.00,237.23 366.50,235.83 367.00,234.45 367.50,233.09 368.00,231.75 368.50,230.42 369.00,229.10 369.50,227.80 370.00,226.50 370.50,225.22 371.00,223.95 371.50,222.70 372.00,221.45 372.50,220.21 373.00,218.98 373.50,217.76 374.00,216.55 374.50,215.34 375.00,214.15 375.50,212.96 376.00,211.78 376.50,210.61 377.00,209.45 377.50,208.29 378.00,207.15 378.50,206.01 379.00,204.87 379.50,203.75 380.00,202.63 380.50,201.52 381.00,200.42 381.50,199.32 382.00,198.23 382.50,197.15 383.00,196.08 383.50,195.02 384.00,193.96 384.50,192.91 385.00,191.87 385.50,190.83 386.00,189.80 386.50,188.78 387.00,187.77 387.50,186.77 388.00,185.77 388.50,184.78 389.00,183.80 389.50,182.83 390.00,181.86 390.50,180.91 391.00,179.96 391.50,179.02 392.00,178.08 392.50,177.16 393.00,176.24 393.50,175.33 394.00,174.43 394.50,173.54 395.00,172.65 395.50,171.78 396.00,170.91 396.50,170.05 397.00,169.20 397.50,168.36 398.00,167.52 398.50,166.69 399.00,165.88 399.50,165.07 400.00,164.26 402.39,160.54 404.78,157.00 407.18,153.65 409.57,150.47 411.96,147.47 414.35,144.64 416.75,141.97 419.14,139.46 421.53,137.10 423.92,134.88 426.32,132.80 428.71,130.84 431.10,129.01 433.49,127.29 435.89,125.68 438.28,124.17 440.67,122.76 443.06,121.43 445.46,120.18 447.85,119.02 450.24,117.92 452.63,116.89 455.03,115.93 457.42,115.02 459.81,114.16 462.20,113.36 464.59,112.60 466.99,111.88 469.38,111.21 471.77,110.57 474.16,109.96 476.56,109.39 478.95,108.85 481.34,108.33 483.73,107.84 486.13,107.37 488.52,106.92 490.91,106.49 493.30,106.08 495.70,105.68 498.09,105.30 500.48,104.94 502.87,104.59 505.27,104.25 507.66,103.92 510.05,103.60 512.44,103.29 514.84,103.00 517.23,102.70 519.62,102.42 522.01,102.14 524.41,101.87 526.80,101.61 529.19,101.35 531.58,101.09 533.97,100.84 536.37,100.59 538.76,100.35 541.15,100.11 543.54,99.87 545.94,99.64 548.33,99.41 550.72,99.19 553.11,98.96 555.51,98.74 557.90,98.51 560.29,98.29 562.68,98.06 565.08,97.82 567.47,97.59 569.86,97.35 572.25,97.12 574.65,96.88 577.04,96.65 579.43,96.42 581.82,96.20 584.22,95.98 586.61,95.77 589.00,95.57Z" fill="none" stroke="#ff00ff" stroke-width="5.8" stroke-linecap="round" stroke-linejoin="round"/>
<path d="M589.00,114.44 586.61,114.60 584.22,114.74 581.82,114.87 579.43,114.98 577.04,115.08 574.65,115.18 572.25,115.27 569.86,115.36 567.47,115.45 565.08,115.55 562.68,115.66 560.29,115.77 557.90,115.89 555.51,116.02 553.11,116.17 550.72,116.32 548.33,116.49 545.94,116.66 543.54,116.85 541.15,117.05 538.76,117.26 536.37,117.47 533.97,117.69 531.58,117.91 529.19,118.14 526.80,118.37 524.41,118.61 522.01,118.84 519.62,119.09 517.23,119.33 514.84,119.58 512.44,119.84 510.05,120.10 507.66,120.36 505.27,120.63 502.87,120.90 500.48,121.18 498.09,121.46 495.70,121.74 493.30,122.04 490.91,122.33 488.52,122.64 486.13,122.95 483.73,123.26 481.34,123.58 478.95,123.91 476.56,124.25 474.16,124.59 471.77,124.94 469.38,125.30 466.99,125.67 464.59,126.04 462.20,126.43 459.81,126.82 457.42,127.22 455.03,127.64 452.63,128.07 450.24,128.50 447.85,128.95 445.46,129.42 443.06,129.89 440.67,130.38 438.28,130.89 435.89,131.41 433.49,131.95 431.10,132.50 428.71,133.07 426.32,133.66 423.92,134.27 421.53,134.90 419.14,135.56 416.75,136.23 414.35,136.93 411.96,137.65 409.57,138.40 407.18,139.17 404.78,139.97 402.39,140.80 400.00,141.67 399.50,141.85 399.00,142.04 398.50,142.22 398.00,142.41 397.50,142.60 397.00,142.80 396.50,142.99 396.00,143.18 395.50,143.38 395.00,143.58 394.50,143.78 394.00,143.98 393.50,144.18 393.00,144.39 392.50,144.59 392.00,144.80 391.50,145.01 391.00,145.23 390.50,145.44 390.00,145.65 389.50,145.87 389.00,146.09 388.50,146.31 388.00,146.54 387.50,146.76 387.00,146.99 386.50,147.22 386.00,147.45 385.50,147.69 385.00,147.93 384.50,148.17 384.00,148.41 383.50,148.65 383.00,148.90 382.50,149.15 382.00,149.40 381.50,149.66 381.00,149.91 380.50,150.17 380.00,150.44 379.50,150.70 379.00,150.97 378.50,151.24 378.00,151.52 377.50,151.80 377.00,152.08 376.50,152.36 376.00,152.65 375.50,152.95 375.00,153.24 374.50,153.54 374.00,153.85 373.50,154.15 373.00,154.47 372.50,154.78 372.00,155.11 371.50,155.43 371.00,155.76 370.50,156.10 370.00,156.45 369.50,156.80 369.00,157.16 368.50,157.52 368.00,157.90 367.50,158.28 367.00,158.67 366.50,159.08 366.00,159.50 365.50,159.93 365.00,160.38 364.50,160.85 364.00,161.35 363.50,161.86 363.00,162.41 362.50,162.98 362.00,163.59 361.50,164.24 361.00,164.94 360.50,165.69 360.00,166.49 359.50,167.35 359.00,168.29 358.50,169.30 358.00,170.40 357.50,171.58 357.00,172.87 356.50,174.26 356.00,175.76 355.50,177.39 355.00,179.14 354.50,181.02 354.00,183.03 353.50,185.18 353.00,187.47 352.50,189.90 352.00,192.46 351.50,195.16 351.00,197.98 350.50,200.92 350.00,203.97 349.50,207.12 349.00,210.36 348.50,213.67 348.00,217.05 347.50,220.47 347.00,223.92 346.50,227.39 346.00,230.86 345.50,234.32 345.00,237.76 344.50,241.16 344.00,244.50 343.50,247.79 343.00,251.01 342.50,254.14 342.00,257.19 341.50,260.15 341.00,263.02 340.50,265.78 340.00,268.44 339.50,271.00 339.00,273.46 338.50,275.81 338.00,278.06 337.50,280.20 337.00,282.25 336.50,284.20 336.00,286.06 335.50,287.83 335.00,289.51 334.50,291.10 334.00,292.62 333.50,294.06 333.00,295.43 332.50,296.73 332.00,297.96 331.50,299.14 331.00,300.25 330.50,301.31 330.00,302.32 329.50,303.28 329.00,304.19 328.50,305.06 328.00,305.89 327.50,306.69 327.00,307.44 326.50,308.17 326.00,308.86 325.50,309.53 325.00,310.17 324.50,310.78 324.00,311.37 323.50,311.94 323.00,312.49 322.50,313.02 322.00,313.53 321.50,314.03 321.00,314.51 320.50,314.97 320.00,315.42 319.50,315.86 319.00,316.29 318.50,316.70 318.00,317.10 317.50,317.50 317.00,317.88 316.50,318.26 316.00,318.63 315.50,318.99 315.00,319.34 314.50,319.69 314.00,320.03 313.50,320.36 313.00,320.69 312.50,321.01 312.00,321.33 311.50,321.64 311.00,321.95 310.50,322.25 310.00,322.55 309.50,322.84 309.00,323.13 308.50,323.42 308.00,323.70 307.50,323.98 307.00,324.25 306.50,324.53 306.00,324.79 305.50,325.06 305.00,325.32 304.50,325.58 304.00,325.84 303.50,326.09 303.00,326.34 302.50,326.59 302.00,326.84 301.50,327.08 301.00,327.32 300.50,327.56 300.00,327.79 296.94,329.19 293.87,330.50 290.81,331.75 287.75,332.92 284.68,334.03 281.62,335.08 278.56,336.08 275.49,337.02 272.43,337.92 269.37,338.77 266.30,339.58 263.24,340.35 260.18,341.08 257.11,341.78 254.05,342.45 250.99,343.09 247.92,343.70 244.86,344.29 241.80,344.86 238.73,345.40 235.67,345.92 232.61,346.43 229.54,346.92 226.48,347.39 223.42,347.85 220.35,348.29 217.29,348.72 214.23,349.14 211.16,349.54 208.10,349.94 205.04,350.33 201.97,350.70 198.91,351.07 195.85,351.43 192.78,351.78 189.72,352.12 186.66,352.46 183.59,352.78 180.53,353.11 177.47,353.42 174.40,353.73 171.34,354.04 168.28,354.34 165.21,354.64 162.15,354.94 159.09,355.24 156.02,355.54 152.96,355.84 149.90,356.14 146.83,356.45 143.77,356.77 140.71,357.10 137.64,357.42 134.58,357.75 131.52,358.07 128.45,358.39 125.39,358.69 122.33,358.97 119.26,359.23 116.20,359.46 116.20,359.46 119.26,359.25 122.33,359.06 125.39,358.89 128.45,358.73 131.52,358.58 134.58,358.42 137.64,358.27 140.71,358.10 143.77,357.92 146.83,357.73 149.90,357.52 152.96,357.30 156.02,357.07 159.09,356.82 162.15,356.56 165.21,356.30 168.28,356.02 171.34,355.73 174.40,355.44 177.47,355.15 180.53,354.84 183.59,354.53 186.66,354.21 189.72,353.89 192.78,353.56 195.85,353.22 198.91,352.87 201.97,352.52 205.04,352.16 208.10,351.79 211.16,351.41 214.23,351.02 217.29,350.62 220.35,350.21 223.42,349.79 226.48,349.36 229.54,348.92 232.61,348.46 235.67,347.99 238.73,347.51 241.80,347.01 244.86,346.50 247.92,345.96 250.99,345.41 254.05,344.84 257.11,344.25 260.18,343.64 263.24,343.00 266.30,342.34 269.37,341.65 272.43,340.93 275.49,340.18 278.56,339.41 281.62,338.59 284.68,337.75 287.75,336.86 290.81,335.94 293.87,334.97 296.94,333.96 300.00,332.90 300.50,332.72 301.00,332.54 301.50,332.36 302.00,332.18 302.50,332.00 303.00,331.81 303.50,331.63 304.00,331.44 304.50,331.25 305.00,331.06 305.50,330.87 306.00,330.67 306.50,330.48 307.00,330.28 307.50,330.08 308.00,329.88 308.50,329.68 309.00,329.48 309.50,329.27 310.00,329.06 310.50,328.86 311.00,328.64 311.50,328.43 312.00,328.22 312.50,328.00 313.00,327.78 313.50,327.56 314.00,327.34 314.50,327.12 315.00,326.89 315.50,326.66 316.00,326.43 316.50,326.20 317.00,325.96 317.50,325.73 318.00,325.49 318.50,325.24 319.00,325.00 319.50,324.75 320.00,324.50 320.50,324.25 321.00,323.99 321.50,323.74 322.00,323.47 322.50,323.21 323.00,322.94 323.50,322.67 324.00,322.40 324.50,322.13 325.00,321.85 325.50,321.56 326.00,321.28 326.50,320.99 327.00,320.70 327.50,320.40 328.00,320.10 328.50,319.79 329.00,319.48 329.50,319.17 330.00,318.85 330.50,318.53 331.00,318.20 331.50,317.87 332.00,317.53 332.50,317.18 333.00,316.83 333.50,316.47 334.00,316.10 334.50,315.73 335.00,315.34 335.50,314.95 336.00,314.54 336.50,314.12 337.00,313.68 337.50,313.22 338.00,312.75 338.50,312.25 339.00,311.73 339.50,311.18 340.00,310.60 340.50,309.98 341.00,309.32 341.50,308.62 342.00,307.86 342.50,307.04 343.00,306.16 343.50,305.21 344.00,304.19 344.50,303.07 345.00,301.87 345.50,300.56 346.00,299.15 346.50,297.62 347.00,295.97 347.50,294.20 348.00,292.29 348.50,290.25 349.00,288.07 349.50,285.75 350.00,283.30 350.50,280.71 351.00,277.99 351.50,275.14 352.00,272.18 352.50,269.11 353.00,265.94 353.50,262.69 354.00,259.36 354.50,255.97 355.00,252.54 355.50,249.09 356.00,245.62 356.50,242.14 357.00,238.69 357.50,235.26 358.00,231.87 358.50,228.53 359.00,225.26 359.50,222.06 360.00,218.94 360.50,215.91 361.00,212.96 361.50,210.12 362.00,207.38 362.50,204.74 363.00,202.20 363.50,199.76 364.00,197.43 364.50,195.21 365.00,193.08 365.50,191.05 366.00,189.12 366.50,187.28 367.00,185.53 367.50,183.87 368.00,182.29 368.50,180.78 369.00,179.36 369.50,178.00 370.00,176.72 370.50,175.50 371.00,174.34 371.50,173.23 372.00,172.18 372.50,171.19 373.00,170.24 373.50,169.33 374.00,168.47 374.50,167.65 375.00,166.86 375.50,166.11 376.00,165.39 376.50,164.70 377.00,164.04 377.50,163.41 378.00,162.80 378.50,162.21 379.00,161.65 379.50,161.10 380.00,160.58 380.50,160.07 381.00,159.58 381.50,159.10 382.00,158.64 382.50,158.19 383.00,157.75 383.50,157.33 384.00,156.92 384.50,156.52 385.00,156.12 385.50,155.74 386.00,155.36 386.50,155.00 387.00,154.64 387.50,154.29 388.00,153.94 388.50,153.60 389.00,153.27 389.50,152.94 390.00,152.62 390.50,152.31 391.00,152.00 391.50,151.69 392.00,151.39 392.50,151.09 393.00,150.80 393.50,150.51 394.00,150.23 394.50,149.94 395.00,149.67 395.50,149.39 396.00,149.12 396.50,148.85 397.00,148.59 397.50,148.33 398.00,148.07 398.50,147.81 399.00,147.56 399.50,147.31 400.00,147.06 402.39,145.91 404.78,144.81 407.18,143.77 409.57,142.77 411.96,141.81 414.35,140.89 416.75,140.01 419.14,139.17 421.53,138.37 423.92,137.60 426.32,136.85 428.71,136.14 431.10,135.46 433.49,134.80 435.89,134.17 438.28,133.57 440.67,132.98 443.06,132.42 445.46,131.88 447.85,131.36 450.24,130.85 452.63,130.36 455.03,129.89 457.42,129.43 459.81,128.99 462.20,128.56 464.59,128.14 466.99,127.73 469.38,127.34 471.77,126.95 474.16,126.58 476.56,126.21 478.95,125.86 481.34,125.51 483.73,125.17 486.13,124.84 488.52,124.52 490.91,124.20 493.30,123.89 495.70,123.58 498.09,123.28 500.48,122.99 502.87,122.70 505.27,122.42 507.66,122.15 510.05,121.87 512.44,121.61 514.84,121.34 517.23,121.08 519.62,120.83 522.01,120.58 524.41,120.33 526.80,120.09 529.19,119.85 531.58,119.61 533.97,119.38 536.37,119.14 538.76,118.91 541.15,118.69 543.54,118.46 545.94,118.24 548.33,118.03 550.72,117.82 553.11,117.60 555.51,117.39 557.90,117.18 560.29,116.96 562.68,116.74 565.08,116.52 567.47,116.30 569.86,116.07 572.25,115.85 574.65,115.63 577.04,115.41 579.43,115.20 581.82,114.99 584.22,114.80 586.61,114.61 589.00,114.44Z" fill="none" stroke="#008000" stroke-width="5.8" stroke-linecap="round" stroke-linejoin="round"/>
<path d="M589.00,126.22 586.61,126.38 584.22,126.53 581.82,126.68 579.43,126.83 577.04,126.98 574.65,127.12 572.25,127.26 569.86,127.39 567.47,127.53 565.08,127.67 562.68,127.81 560.29,127.96 557.90,128.11 555.51,128.27 553.11,128.43 550.72,128.60 548.33,128.78 545.94,128.97 543.54,129.16 541.15,129.37 538.76,129.58 536.37,129.80 533.97,130.03 531.58,130.26 529.19,130.49 526.80,130.73 524.41,130.98 522.01,131.23 519.62,131.48 517.23,131.74 514.84,132.01 512.44,132.28 510.05,132.55 507.66,132.83 505.27,133.12 502.87,133.41 500.48,133.71 498.09,134.01 495.70,134.32 493.30,134.63 490.91,134.95 488.52,135.27 486.13,135.60 483.73,135.94 481.34,136.28 478.95,136.63 476.56,136.99 474.16,137.35 471.77,137.72 469.38,138.09 466.99,138.47 464.59,138.86 462.20,139.25 459.81,139.65 457.42,140.06 455.03,140.48 452.63,140.91 450.24,141.34 447.85,141.78 445.46,142.23 443.06,142.69 440.67,143.17 438.28,143.65 435.89,144.15 433.49,144.66 431.10,145.18 428.71,145.72 426.32,146.27 423.92,146.85 421.53,147.44 419.14,148.06 416.75,148.70 414.35,149.36 411.96,150.06 409.57,150.78 407.18,151.54 404.78,152.33 402.39,153.16 400.00,154.04 399.50,154.22 399.00,154.41 398.50,154.60 398.00,154.80 397.50,154.99 397.00,155.19 396.50,155.39 396.00,155.59 395.50,155.79 395.00,156.00 394.50,156.21 394.00,156.41 393.50,156.63 393.00,156.84 392.50,157.06 392.00,157.27 391.50,157.49 391.00,157.71 390.50,157.94 390.00,158.16 389.50,158.39 389.00,158.62 388.50,158.85 388.00,159.09 387.50,159.32 387.00,159.56 386.50,159.80 386.00,160.04 385.50,160.29 385.00,160.53 384.50,160.78 384.00,161.03 383.50,161.28 383.00,161.54 382.50,161.79 382.00,162.05 381.50,162.31 381.00,162.57 380.50,162.83 380.00,163.09 379.50,163.36 379.00,163.63 378.50,163.89 378.00,164.16 377.50,164.43 377.00,164.71 376.50,164.98 376.00,165.25 375.50,165.53 375.00,165.81 374.50,166.09 374.00,166.36 373.50,166.64 373.00,166.93 372.50,167.21 372.00,167.49 371.50,167.78 371.00,168.07 370.50,168.35 370.00,168.64 369.50,168.94 369.00,169.23 368.50,169.53 368.00,169.83 367.50,170.13 367.00,170.43 366.50,170.74 366.00,171.06 365.50,171.38 365.00,171.70 364.50,172.03 364.00,172.37 363.50,172.72 363.00,173.08 362.50,173.44 362.00,173.82 361.50,174.21 361.00,174.62 360.50,175.04 360.00,175.48 359.50,175.94 359.00,176.41 358.50,176.91 358.00,177.44 357.50,177.99 357.00,178.57 356.50,179.18 356.00,179.82 355.50,180.49 355.00,181.20 354.50,181.94 354.00,182.71 353.50,183.52 353.00,184.37 352.50,185.25 352.00,186.16 351.50,187.10 351.00,188.08 350.50,189.08 350.00,190.11 349.50,191.16 349.00,192.24 348.50,193.33 348.00,194.43 347.50,195.54 347.00,196.66 346.50,197.79 346.00,198.91 345.50,200.02 345.00,201.13 344.50,202.23 344.00,203.32 343.50,204.40 343.00,205.47 342.50,206.53 342.00,207.57 341.50,208.59 341.00,209.61 340.50,210.61 340.00,211.60 339.50,212.57 339.00,213.53 338.50,214.48 338.00,215.42 337.50,216.35 337.00,217.27 336.50,218.18 336.00,219.07 335.50,219.96 335.00,220.84 334.50,221.71 334.00,222.58 333.50,223.43 333.00,224.28 332.50,225.12 332.00,225.95 331.50,226.78 331.00,227.60 330.50,228.41 330.00,229.22 329.50,230.02 329.00,230.81 328.50,231.60 328.00,232.39 327.50,233.17 327.00,233.94 326.50,234.71 326.00,235.48 325.50,236.24 325.00,236.99 324.50,237.75 324.00,238.49 323.50,239.24 323.00,239.98 322.50,240.71 322.00,241.44 321.50,242.17 321.00,242.89 320.50,243.62 320.00,244.33 319.50,245.05 319.00,245.76 318.50,246.46 318.00,247.17 317.50,247.87 317.00,248.57 316.50,249.26 316.00,249.95 315.50,250.64 315.00,251.33 314.50,252.01 314.00,252.69 313.50,253.37 313.00,254.04 312.50,254.72 312.00,255.39 311.50,256.05 311.00,256.71 310.50,257.38 310.00,258.03 309.50,258.69 309.00,259.34 308.50,259.99 308.00,260.64 307.50,261.28 307.00,261.92 306.50,262.56 306.00,263.20 305.50,263.83 305.00,264.46 304.50,265.09 304.00,265.72 303.50,266.34 303.00,266.96 302.50,267.58 302.00,268.19 301.50,268.80 301.00,269.41 300.50,270.01 300.00,270.62 296.94,274.24 293.87,277.76 290.81,281.16 287.75,284.44 284.68,287.60 281.62,290.64 278.56,293.56 275.49,296.36 272.43,299.03 269.37,301.59 266.30,304.03 263.24,306.36 260.18,308.58 257.11,310.69 254.05,312.69 250.99,314.60 247.92,316.40 244.86,318.12 241.80,319.75 238.73,321.29 235.67,322.75 232.61,324.14 229.54,325.45 226.48,326.69 223.42,327.87 220.35,328.99 217.29,330.05 214.23,331.06 211.16,332.01 208.10,332.92 205.04,333.77 201.97,334.59 198.91,335.36 195.85,336.10 192.78,336.80 189.72,337.47 186.66,338.10 183.59,338.71 180.53,339.28 177.47,339.83 174.40,340.36 171.34,340.86 168.28,341.35 165.21,341.81 162.15,342.26 159.09,342.69 156.02,343.10 152.96,343.51 149.90,343.90 146.83,344.28 143.77,344.65 140.71,345.00 137.64,345.35 134.58,345.67 131.52,345.99 128.45,346.28 125.39,346.56 122.33,346.82 119.26,347.06 116.20,347.29 116.20,347.29 119.26,347.07 122.33,346.85 125.39,346.63 128.45,346.42 131.52,346.21 134.58,346.00 137.64,345.78 140.71,345.57 143.77,345.35 146.83,345.12 149.90,344.89 152.96,344.64 156.02,344.39 159.09,344.12 162.15,343.85 165.21,343.57 168.28,343.27 171.34,342.97 174.40,342.66 177.47,342.33 180.53,342.00 183.59,341.67 186.66,341.32 189.72,340.96 192.78,340.60 195.85,340.22 198.91,339.84 201.97,339.45 205.04,339.05 208.10,338.64 211.16,338.22 214.23,337.79 217.29,337.35 220.35,336.91 223.42,336.45 226.48,335.98 229.54,335.50 232.61,335.01 235.67,334.50 238.73,333.99 241.80,333.46 244.86,332.92 247.92,332.37 250.99,331.80 254.05,331.22 257.11,330.62 260.18,330.00 263.24,329.36 266.30,328.70 269.37,328.01 272.43,327.30 275.49,326.55 278.56,325.77 281.62,324.96 284.68,324.10 287.75,323.19 290.81,322.23 293.87,321.21 296.94,320.13 300.00,318.98 300.50,318.79 301.00,318.59 301.50,318.39 302.00,318.19 302.50,317.99 303.00,317.78 303.50,317.58 304.00,317.37 304.50,317.16 305.00,316.95 305.50,316.73 306.00,316.51 306.50,316.30 307.00,316.07 307.50,315.85 308.00,315.63 308.50,315.40 309.00,315.17 309.50,314.94 310.00,314.71 310.50,314.47 311.00,314.23 311.50,313.99 312.00,313.75 312.50,313.51 313.00,313.26 313.50,313.02 314.00,312.77 314.50,312.52 315.00,312.26 315.50,312.01 316.00,311.75 316.50,311.49 317.00,311.24 317.50,310.97 318.00,310.71 318.50,310.45 319.00,310.18 319.50,309.91 320.00,309.64 320.50,309.37 321.00,309.10 321.50,308.83 322.00,308.56 322.50,308.28 323.00,308.00 323.50,307.73 324.00,307.45 324.50,307.17 325.00,306.89 325.50,306.60 326.00,306.32 326.50,306.04 327.00,305.75 327.50,305.46 328.00,305.17 328.50,304.88 329.00,304.59 329.50,304.29 330.00,303.99 330.50,303.69 331.00,303.39 331.50,303.08 332.00,302.77 332.50,302.45 333.00,302.13 333.50,301.80 334.00,301.46 334.50,301.12 335.00,300.77 335.50,300.41 336.00,300.03 336.50,299.65 337.00,299.25 337.50,298.83 338.00,298.40 338.50,297.95 339.00,297.48 339.50,296.99 340.00,296.47 340.50,295.93 341.00,295.36 341.50,294.77 342.00,294.14 342.50,293.48 343.00,292.79 343.50,292.06 344.00,291.30 344.50,290.51 345.00,289.68 345.50,288.81 346.00,287.91 346.50,286.98 347.00,286.02 347.50,285.02 348.00,284.01 348.50,282.96 349.00,281.90 349.50,280.81 350.00,279.71 350.50,278.60 351.00,277.48 351.50,276.36 352.00,275.24 352.50,274.12 353.00,273.01 353.50,271.91 354.00,270.81 354.50,269.73 355.00,268.65 355.50,267.59 356.00,266.55 356.50,265.51 357.00,264.50 357.50,263.49 358.00,262.50 358.50,261.52 359.00,260.55 359.50,259.59 360.00,258.65 360.50,257.72 361.00,256.80 361.50,255.89 362.00,254.98 362.50,254.09 363.00,253.21 363.50,252.33 364.00,251.47 364.50,250.61 365.00,249.76 365.50,248.92 366.00,248.08 366.50,247.25 367.00,246.43 367.50,245.62 368.00,244.81 368.50,244.00 369.00,243.20 369.50,242.41 370.00,241.62 370.50,240.84 371.00,240.07 371.50,239.29 372.00,238.53 372.50,237.77 373.00,237.01 373.50,236.25 374.00,235.51 374.50,234.76 375.00,234.02 375.50,233.28 376.00,232.55 376.50,231.82 377.00,231.09 377.50,230.37 378.00,229.65 378.50,228.94 379.00,228.23 379.50,227.52 380.00,226.81 380.50,226.11 381.00,225.41 381.50,224.72 382.00,224.02 382.50,223.33 383.00,222.64 383.50,221.96 384.00,221.28 384.50,220.60 385.00,219.93 385.50,219.25 386.00,218.58 386.50,217.91 387.00,217.25 387.50,216.59 388.00,215.93 388.50,215.27 389.00,214.62 389.50,213.97 390.00,213.32 390.50,212.67 391.00,212.03 391.50,211.39 392.00,210.75 392.50,210.12 393.00,209.49 393.50,208.86 394.00,208.23 394.50,207.61 395.00,206.99 395.50,206.37 396.00,205.76 396.50,205.14 397.00,204.53 397.50,203.93 398.00,203.32 398.50,202.72 399.00,202.13 399.50,201.53 400.00,200.94 402.39,198.15 404.78,195.43 407.18,192.78 409.57,190.20 411.96,187.69 414.35,185.26 416.75,182.90 419.14,180.61 421.53,178.40 423.92,176.26 426.32,174.20 428.71,172.21 431.10,170.29 433.49,168.44 435.89,166.66 438.28,164.94 440.67,163.29 443.06,161.71 445.46,160.18 447.85,158.72 450.24,157.32 452.63,155.97 455.03,154.68 457.42,153.43 459.81,152.24 462.20,151.10 464.59,150.01 466.99,148.96 469.38,147.95 471.77,146.98 474.16,146.06 476.56,145.17 478.95,144.32 481.34,143.50 483.73,142.72 486.13,141.97 488.52,141.25 490.91,140.55 493.30,139.89 495.70,139.25 498.09,138.63 500.48,138.04 502.87,137.48 505.27,136.93 507.66,136.41 510.05,135.90 512.44,135.42 514.84,134.95 517.23,134.50 519.62,134.07 522.01,133.65 524.41,133.24 526.80,132.85 529.19,132.48 531.58,132.11 533.97,131.76 536.37,131.42 538.76,131.09 541.15,130.77 543.54,130.46 545.94,130.16 548.33,129.87 550.72,129.60 553.11,129.33 555.51,129.07 557.90,128.82 560.29,128.58 562.68,128.35 565.08,128.12 567.47,127.90 569.86,127.68 572.25,127.48 574.65,127.28 577.04,127.08 579.43,126.90 581.82,126.72 584.22,126.55 586.61,126.38 589.00,126.22Z" fill="none" stroke="#000080" stroke-width="5.8" stroke-linecap="round" stroke-linejoin="round"/>
<line x1="349.75" y1="3" x2="349.75" y2="473" stroke="#000" stroke-opacity="0.78" stroke-width="1.3"/>
<line x1="77" y1="239.4" x2="655" y2="239.4" stroke="#000" stroke-opacity="0.78" stroke-width="1.2"/>
<rect x="568.2" y="347.2" width="78.1" height="125.3" fill="#fff" stroke="#2a2a2a" stroke-width="1.15"/>
<g font-size="16.2">
<line x1="570.3" y1="359.00" x2="607.1" y2="359.00" stroke="#000000" stroke-width="5.5" stroke-linecap="round"/>
<text x="611.9" y="364.60">0.0</text>
<line x1="570.3" y1="379.42" x2="607.1" y2="379.42" stroke="#ff0000" stroke-width="5.5" stroke-linecap="round"/>
<text x="611.9" y="385.02">0.02</text>
<line x1="570.3" y1="399.84" x2="607.1" y2="399.84" stroke="#0000ff" stroke-width="5.5" stroke-linecap="round"/>
<text x="611.9" y="405.44">0.04</text>
<line x1="570.3" y1="420.26" x2="607.1" y2="420.26" stroke="#ff00ff" stroke-width="5.5" stroke-linecap="round"/>
<text x="611.9" y="425.86">0.06</text>
<line x1="570.3" y1="440.68" x2="607.1" y2="440.68" stroke="#008000" stroke-width="5.5" stroke-linecap="round"/>
<text x="611.9" y="446.28">0.08</text>
<line x1="570.3" y1="461.10" x2="607.1" y2="461.10" stroke="#000080" stroke-width="5.5" stroke-linecap="round"/>
<text x="611.9" y="466.70">0.1</text>
</g>
<g stroke="#000" stroke-width="2" fill="none">
<line x1="70.8" y1="0.95" x2="656.6" y2="0.95"/>
<line x1="76.6" y1="0" x2="76.6" y2="474"/>
<line x1="655.6" y1="0" x2="655.6" y2="474"/>
<line x1="70.8" y1="473.1" x2="656.6" y2="473.1"/>
</g><g stroke="#000" stroke-width="2" stroke-linecap="round"><line x1="74.84" y1="473" x2="74.84" y2="477.5"/>
<line x1="105.40" y1="473" x2="105.40" y2="482.5"/>
<line x1="135.96" y1="473" x2="135.96" y2="477.5"/>
<line x1="166.52" y1="473" x2="166.52" y2="482.5"/>
<line x1="197.09" y1="473" x2="197.09" y2="477.5"/>
<line x1="227.65" y1="473" x2="227.65" y2="482.5"/>
<line x1="258.21" y1="473" x2="258.21" y2="477.5"/>
<line x1="288.77" y1="473" x2="288.77" y2="482.5"/>
<line x1="319.34" y1="473" x2="319.34" y2="477.5"/>
<line x1="349.90" y1="473" x2="349.90" y2="482.5"/>
<line x1="380.46" y1="473" x2="380.46" y2="477.5"/>
<line x1="411.02" y1="473" x2="411.02" y2="482.5"/>
<line x1="441.59" y1="473" x2="441.59" y2="477.5"/>
<line x1="472.15" y1="473" x2="472.15" y2="482.5"/>
<line x1="502.71" y1="473" x2="502.71" y2="477.5"/>
<line x1="533.27" y1="473" x2="533.27" y2="482.5"/>
<line x1="563.84" y1="473" x2="563.84" y2="477.5"/>
<line x1="594.40" y1="473" x2="594.40" y2="482.5"/>
<line x1="624.96" y1="473" x2="624.96" y2="477.5"/>
<line x1="655.52" y1="473" x2="655.52" y2="482.5"/>
<line x1="72.10" y1="473.37" x2="76.6" y2="473.37"/>
<line x1="67.10" y1="439.60" x2="76.6" y2="439.60"/>
<line x1="72.10" y1="405.84" x2="76.6" y2="405.84"/>
<line x1="67.10" y1="372.07" x2="76.6" y2="372.07"/>
<line x1="72.10" y1="338.30" x2="76.6" y2="338.30"/>
<line x1="67.10" y1="304.53" x2="76.6" y2="304.53"/>
<line x1="72.10" y1="270.77" x2="76.6" y2="270.77"/>
<line x1="67.10" y1="237.00" x2="76.6" y2="237.00"/>
<line x1="72.10" y1="203.23" x2="76.6" y2="203.23"/>
<line x1="67.10" y1="169.47" x2="76.6" y2="169.47"/>
<line x1="72.10" y1="135.70" x2="76.6" y2="135.70"/>
<line x1="67.10" y1="101.93" x2="76.6" y2="101.93"/>
<line x1="72.10" y1="68.16" x2="76.6" y2="68.16"/>
<line x1="67.10" y1="34.40" x2="76.6" y2="34.40"/>
<line x1="72.10" y1="0.63" x2="76.6" y2="0.63"/>
</g>
<g font-size="22" font-weight="bold" fill="#000">
<text transform="translate(105.40,506.8) scale(1,1.06)" text-anchor="middle">-20000</text>
<text transform="translate(166.52,506.8) scale(1,1.06)" text-anchor="middle">-15000</text>
<text transform="translate(227.65,506.8) scale(1,1.06)" text-anchor="middle">-10000</text>
<text transform="translate(288.77,506.8) scale(1,1.06)" text-anchor="middle">-5000</text>
<text transform="translate(349.90,506.8) scale(1,1.06)" text-anchor="middle">0</text>
<text transform="translate(411.02,506.8) scale(1,1.06)" text-anchor="middle">5000</text>
<text transform="translate(472.15,506.8) scale(1,1.06)" text-anchor="middle">10000</text>
<text transform="translate(533.27,506.8) scale(1,1.06)" text-anchor="middle">15000</text>
<text transform="translate(594.40,506.8) scale(1,1.06)" text-anchor="middle">20000</text>
<text transform="translate(655.52,506.8) scale(1,1.06)" text-anchor="middle">25000</text>
<text transform="translate(61,446.80) scale(1,1.06)" text-anchor="end">-60</text>
<text transform="translate(61,379.27) scale(1,1.06)" text-anchor="end">-40</text>
<text transform="translate(61,311.73) scale(1,1.06)" text-anchor="end">-20</text>
<text transform="translate(61,244.20) scale(1,1.06)" text-anchor="end">0</text>
<text transform="translate(61,176.67) scale(1,1.06)" text-anchor="end">20</text>
<text transform="translate(61,109.13) scale(1,1.06)" text-anchor="end">40</text>
<text transform="translate(61,41.60) scale(1,1.06)" text-anchor="end">60</text>
</g>
<text x="229.8" y="550.1" font-size="24.25" font-weight="bold">Magnetic field(Oe)</text>
<text transform="translate(18.4,428.2) rotate(-90)" font-size="24.6" font-weight="bold">Saturation magnetization(emu/g)</text>
</svg>
</body></html>
